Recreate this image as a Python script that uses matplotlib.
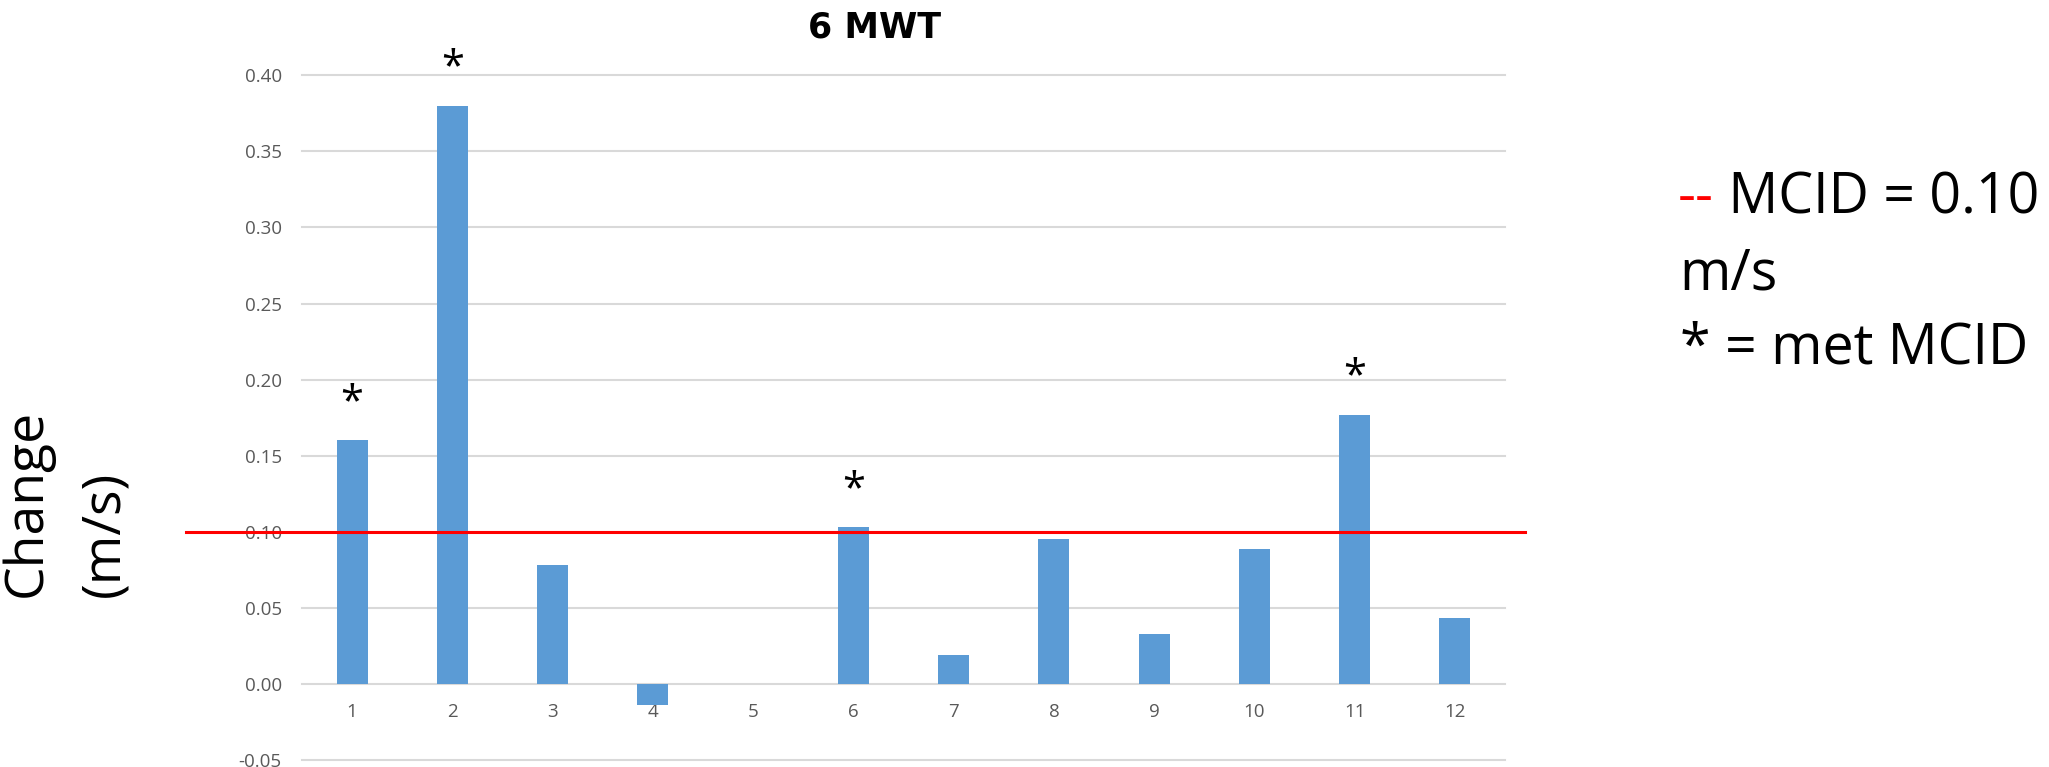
import numpy as np
import matplotlib
matplotlib.use("Agg")
import matplotlib.pyplot as plt
import matplotlib.transforms as mtransforms

# participants and change in gait speed (m/s)
participants = [1, 2, 3, 4, 5, 6, 7, 8, 9, 10, 11, 12]
change = [0.160, 0.380, 0.078, -0.014, 0.0, 0.103, 0.019, 0.095, 0.033, 0.089, 0.177, 0.043]
met_mcid = [True, True, False, False, False, True, False, False, False, False, True, False]
mcid = 0.10
y_ticks = [-0.05, 0.00, 0.05, 0.10, 0.15, 0.20, 0.25, 0.30, 0.35, 0.40]

W, H = 2049, 767
fig = plt.figure(figsize=(W / 100, H / 100), dpi=100)
ax = fig.add_axes([302 / W, (H - 760) / H, 1203 / W, (760 - 75.3) / H])

ax.bar(participants, change, width=0.31, color='#5b9bd5', zorder=3)

ax.set_xlim(0.5, 12.5)
ax.set_ylim(-0.05, 0.40)
ax.set_yticks(y_ticks)
ax.set_yticklabels([f'{v:.2f}' for v in y_ticks])
ax.set_xticks(participants)
ax.set_xticklabels([str(p) for p in participants])
ax.grid(axis='y', color='#d9d9d9', linewidth=1.5, zorder=0)
for gl in ax.get_ygridlines():
    gl.set_clip_on(False)
for s in ax.spines.values():
    s.set_visible(False)
ax.spines['bottom'].set_position(('data', 0))
ax.tick_params(axis='both', length=0, labelcolor='#595959', labelsize=13.5)
ax.tick_params(axis='x', pad=14)
ax.tick_params(axis='y', pad=14.5)
for lab in ax.get_xticklabels() + ax.get_yticklabels():
    lab.set_fontfamily('Open Sans')

# MCID line, running past the plot area on both sides
trans = mtransforms.blended_transform_factory(ax.transAxes, ax.transData)
ax.plot([(186 - 302) / 1203, (1525 - 302) / 1203], [mcid, mcid], color='#ff0000',
        linewidth=2.2, transform=trans, clip_on=False, zorder=4)

# asterisks over participants who met MCID
for p, v, m in zip(participants, change, met_mcid):
    if m:
        ax.annotate('*', xy=(p, v), xytext=(0, 19), textcoords='offset points',
                    ha='center', va='baseline', fontsize=30, family='Open Sans')

fig.text(875 / W, (H - 37) / H, '6 MWT', ha='center', va='baseline',
         fontsize=25, fontweight='bold', family='DejaVu Sans')

# y label (two lines, bottom aligned)
fig.text(27 / W, (H - 597) / H, 'Change', rotation=90, ha='center', va='bottom',
         fontsize=38.5, family='Open Sans')
fig.text(105 / W, (H - 597) / H, '(m/s)', rotation=90, ha='center', va='bottom',
         fontsize=38.5, family='Open Sans')

# key text on the right
t1 = fig.text(1678 / W, (H - 213) / H, '--', color='#ff0000', ha='left', va='baseline',
              fontsize=40, family='Open Sans')
ax.annotate(' MCID = 0.10', xy=(1, 0), xycoords=t1, ha='left', va='bottom',
            fontsize=40, family='Open Sans', annotation_clip=False)
fig.text(1679 / W, (H - 290) / H, 'm/s', ha='left', va='baseline', fontsize=40, family='Open Sans')
fig.text(1680 / W, (H - 364) / H, '* = met MCID', ha='left', va='baseline', fontsize=40, family='Open Sans')

fig.savefig('out.png', dpi=100, facecolor='white')
